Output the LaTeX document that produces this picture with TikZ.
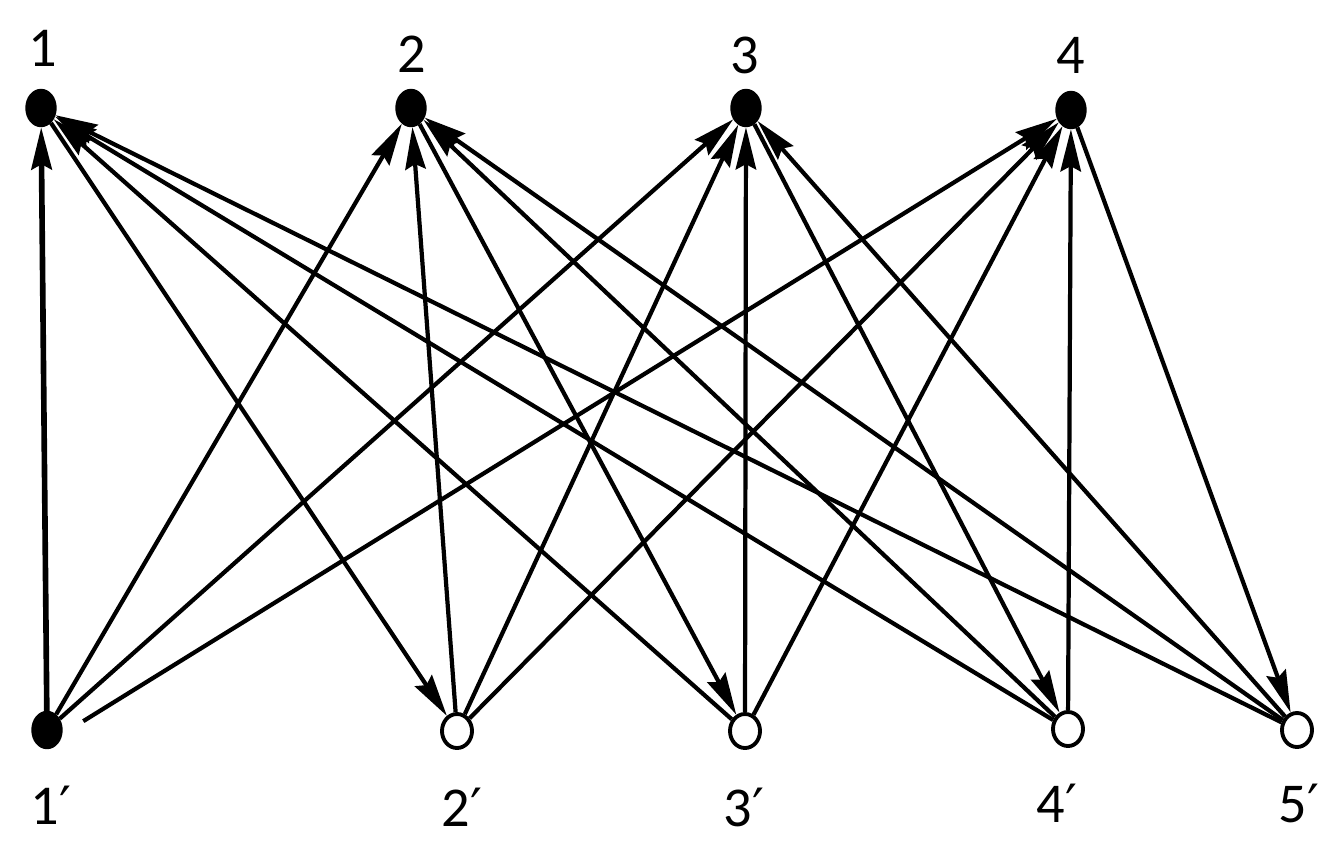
\documentclass[tikz,border=0pt]{standalone}
\usepackage{fontspec}
\setmainfont{Carlito}
\newfontfamily\primefont{DejaVu Sans}
\newcommand{\pr}{{\primefont\fontsize{15}{18}\selectfont ′}}
\usetikzlibrary{arrows.meta,shapes.geometric}
\begin{document}
\begin{tikzpicture}[x=0.01cm,y=-0.01cm,
  full/.style={ellipse,draw=black,fill=black,minimum width=0.3cm,minimum height=0.37cm,inner sep=0pt},
  hollow/.style={ellipse,draw=black,line width=1.1pt,fill=white,minimum width=0.3cm,minimum height=0.34cm,inner sep=0pt},
  lab/.style={font=\fontsize{16}{19}\selectfont,inner sep=0pt},
  edge/.style={line width=1.2pt,-{Stealth[length=12pt,width=5.8pt,inset=1.5pt]}}]
\useasboundingbox (0,0) rectangle (1332,860);
\node[full] (t1) at (41,108) {};
\node[full] (t2) at (411,108) {};
\node[full] (t3) at (746,108) {};
\node[full] (t4) at (1071,110) {};
\node[full] (b1) at (47,730) {};
\node[hollow] (b2) at (457,731) {};
\node[hollow] (b3) at (745,731) {};
\node[hollow] (b4) at (1068,729) {};
\node[hollow] (b5) at (1297,730) {};
\node[lab] (l1) at (43,48) {1};
\node[lab] (l2) at (412,54) {2};
\node[lab] (l3) at (745,55) {3};
\node[lab] (l4) at (1071,55) {4};
\node[lab] (lb1) at (51,805) {1\pr};
\node[lab] (lb2) at (462,807) {2\pr};
\node[lab] (lb3) at (744,807) {3\pr};
\node[lab] (lb4) at (1057,803) {4\pr};
\node[lab] (lb5) at (1299,803) {5\pr};
% upward edges
\draw[edge,line width=1.6pt] (b1) -- (t1);
\draw[edge] (b1) -- (t2);
\draw[edge] (b1) -- (t3);
\draw[edge,shorten <=7pt] (b1.-15) -- (t4);
\draw[edge] (b2) -- (t2);
\draw[edge] (b2) -- (t3);
\draw[edge] (b2) -- (t4);
\draw[edge] (b3) -- (t1);
\draw[edge] (b3) -- (t3);
\draw[edge] (b3) -- (t4);
\draw[edge] (b4) -- (t1);
\draw[edge] (b4) -- (t2);
\draw[edge] (b4) -- (t4);
\draw[edge] (b5) -- (t1);
\draw[edge] (b5) -- (t2);
\draw[edge] (b5) -- (t3);
% downward edges
\draw[edge] (t1) -- (b2);
\draw[edge] (t2) -- (b3);
\draw[edge] (t3) -- (b4);
\draw[edge] (t4) -- (b5);
\end{tikzpicture}
\end{document}
